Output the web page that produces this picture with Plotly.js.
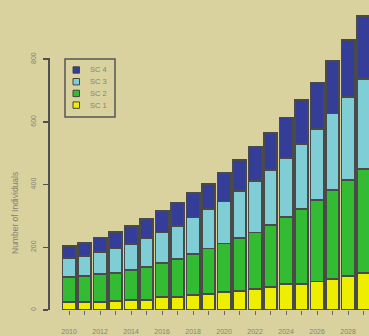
<!DOCTYPE html>
<html><head><meta charset="utf-8">
<script src="https://cdn.plot.ly/plotly-3.0.1.min.js"></script>
<style>html,body{margin:0;padding:0;background:#d9d29f;}</style>
</head><body><div id="chart" style="width:369px;height:336px;"></div>
<script>
const years = [2010,2011,2012,2013,2014,2015,2016,2017,2018,2019,2020,2021,2022,2023,2024,2025,2026,2027,2028,2029];
const sc1 = [25,25,25,30,33,33,42,41,48,52,58,60,68,74,82,84,91,99,109,118];
const sc2 = [81,83,89,89,95,104,109,121,130,144,154,169,179,196,215,239,259,284,306,333];
const sc3 = [59,64,72,77,82,91,96,106,117,125,134,150,164,177,187,206,227,244,265,287];
const sc4 = [38,43,45,53,58,63,70,75,77,80,92,99,109,117,130,140,149,166,181,200];
const seriesNames = ['SC 1','SC 2','SC 3','SC 4'];
const seriesColors = ['#eeee00','#33bb33','#7fcdd5','#343e99'];
const yTicks = [0,200,400,600,800];
const yearLabels = years.map((y,i)=> i%2===0 ? String(y) : '');

const series = [sc1,sc2,sc3,sc4];
const traces = series.map((vals,i)=>({
  type:'bar', x:years, y:vals, name:seriesNames[i],
  marker:{color:seriesColors[i], line:{color:'#4a4a48', width:1.8}},
  showlegend:false, hoverinfo:'skip'
}));

const L=50, R=369, T=10, B=310;
const yMax = (B-T)/0.3135;
const px = x => (x-L)/(R-L);
const py = y => (B-y)/(B-T);
const textCol = '#86836f';
const bg = '#d9d29f';
const shapes = [
  // hide the axis line above the 800 tick (R draws the axis only between end ticks)
  {type:'rect', layer:'above', xref:'paper', yref:'paper', x0:px(44), x1:px(52), y0:800/yMax + 0.004, y1:1.02, line:{width:0}, fillcolor:bg},
  {type:'rect', layer:'above', xref:'paper', yref:'paper', x0:px(65), x1:px(115), y0:py(59), y1:py(117), line:{color:'#555', width:1.5}, fillcolor:'rgba(0,0,0,0)'}
];
const annotations = [
  {xref:'paper', yref:'paper', x:px(15), y:py(213), text:'Number of Individuals', textangle:-90, showarrow:false, xanchor:'center', yanchor:'middle', font:{family:'Liberation Sans, Arial', size:8.5, color:textCol}}
];
const legOrder = [3,2,1,0];
legOrder.forEach((si,k)=>{
  const cy = 70 + k*11.7;
  shapes.push({type:'rect', xref:'paper', yref:'paper', x0:px(73), x1:px(79.5), y0:py(cy+3.2), y1:py(cy-3.2), fillcolor:seriesColors[si], line:{color:'#444', width:1}});
  annotations.push({xref:'paper', yref:'paper', x:px(88), y:py(cy), xanchor:'left', yanchor:'middle', text:seriesNames[si], showarrow:false, font:{family:'Liberation Sans, Arial', size:7.5, color:textCol}});
});

const layout = {
  width:369, height:336,
  margin:{l:L, r:0, t:T, b:336-B},
  paper_bgcolor:bg, plot_bgcolor:bg,
  barmode:'stack', bargap:0.14,
  font:{family:'Liberation Sans, Arial', color:textCol},
  xaxis:{
    range:[2008.77, 2008.77+(R-L)/15.5], showgrid:false, zeroline:false, showline:false,
    tickmode:'array', tickvals:years, ticktext:yearLabels,
    ticks:'outside', ticklen:4, tickwidth:1, tickcolor:'#666',
    tickfont:{size:7, color:textCol}, ticklabelstandoff:11
  },
  yaxis:{
    range:[0, yMax], showgrid:false, zeroline:false,
    showline:true, linecolor:'#505050', linewidth:2,
    tickmode:'array', tickvals:yTicks, ticktext:yTicks.map(String),
    ticks:'outside', ticklen:5, tickwidth:1.5, tickcolor:'#505050',
    tickangle:-90, tickfont:{size:7, color:textCol}, ticklabelstandoff:4
  },
  shapes:shapes, annotations:annotations,
  showlegend:false
};
Plotly.newPlot('chart', traces, layout, {displayModeBar:false, staticPlot:true});
</script></body></html>
